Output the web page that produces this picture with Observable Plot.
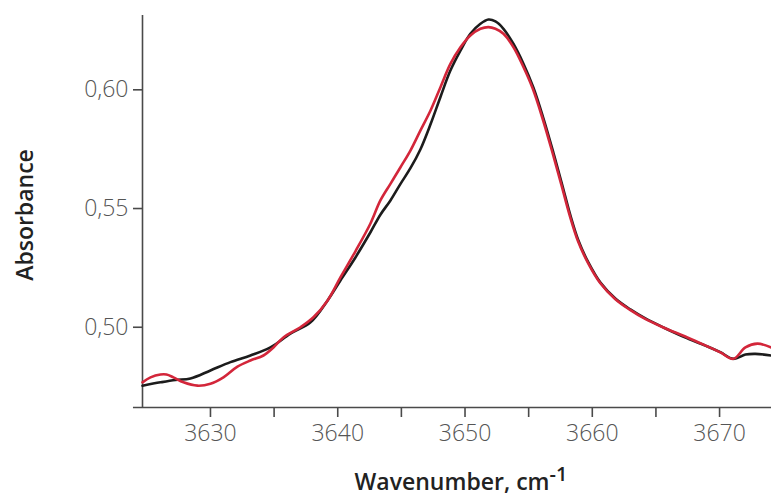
<!DOCTYPE html>
<html>
<head>
<meta charset="utf-8">
<script src="https://cdn.jsdelivr.net/npm/d3@7"></script>
<script src="https://cdn.jsdelivr.net/npm/@observablehq/plot@0.6"></script>
<style>
  html, body { margin: 0; padding: 0; background: #fff; }
  #chart { width: 771px; height: 497px; }
</style>
</head>
<body>
<div id="chart"></div>
<script>
// Black spectrum (wavenumber, absorbance)
const blackWavenumber = [3624.66, 3626.07, 3627.25, 3628.43, 3630.0, 3631.57, 3633.14, 3634.71, 3636.28, 3637.86, 3639.19, 3640.21, 3641.39, 3642.57, 3643.35, 3644.14, 3644.93, 3645.71, 3646.50, 3647.29, 3648.07, 3648.85, 3649.64, 3650.42, 3651.21, 3651.84, 3652.39, 3653.02, 3653.80, 3654.59, 3655.37, 3656.16, 3656.94, 3657.65, 3658.28, 3658.91, 3659.69, 3660.64, 3661.81, 3662.99, 3664.17, 3665.59, 3667.47, 3669.05, 3670.06, 3671.08, 3672.03, 3672.81, 3674.07];
const blackAbsorbance = [0.4754, 0.4768, 0.4778, 0.4784, 0.4818, 0.4853, 0.4881, 0.4915, 0.4973, 0.5021, 0.5112, 0.5197, 0.5294, 0.5400, 0.5474, 0.5534, 0.5604, 0.5670, 0.5750, 0.5855, 0.5970, 0.6081, 0.6165, 0.6236, 0.6278, 0.6296, 0.6288, 0.6257, 0.6194, 0.6110, 0.6010, 0.5880, 0.5736, 0.5597, 0.5471, 0.5365, 0.5273, 0.5188, 0.5121, 0.5075, 0.5037, 0.4999, 0.4953, 0.4919, 0.4895, 0.4867, 0.4885, 0.4888, 0.4881];

// Red spectrum (wavenumber, absorbance)
const redWavenumber = [3624.66, 3625.29, 3626.07, 3626.54, 3627.09, 3627.88, 3628.98, 3630.0, 3631.02, 3632.12, 3633.14, 3634.16, 3634.95, 3635.73, 3637.07, 3638.09, 3639.19, 3640.21, 3641.39, 3642.57, 3643.35, 3644.14, 3644.93, 3645.71, 3646.50, 3647.29, 3648.07, 3648.85, 3649.64, 3650.42, 3651.21, 3651.84, 3652.39, 3653.02, 3653.80, 3654.59, 3655.32, 3656.11, 3656.89, 3657.60, 3658.24, 3658.88, 3659.66, 3660.62, 3661.79, 3662.97, 3664.15, 3665.59, 3667.47, 3669.05, 3670.06, 3671.08, 3672.03, 3672.97, 3674.07];
const redAbsorbance = [0.4768, 0.4789, 0.4801, 0.4801, 0.4789, 0.4768, 0.4754, 0.4762, 0.4789, 0.4834, 0.4860, 0.4881, 0.4915, 0.4957, 0.5000, 0.5042, 0.5112, 0.5210, 0.5320, 0.5437, 0.5534, 0.5604, 0.5674, 0.5744, 0.5829, 0.5913, 0.6011, 0.6109, 0.6179, 0.6229, 0.6257, 0.6264, 0.6257, 0.6236, 0.6180, 0.6096, 0.6005, 0.5876, 0.5732, 0.5594, 0.5468, 0.5362, 0.5271, 0.5186, 0.5119, 0.5073, 0.5035, 0.4999, 0.4957, 0.4919, 0.4894, 0.4867, 0.4915, 0.4931, 0.4915];

const xMajorTicks = [3630, 3640, 3650, 3660, 3670];
const xMinorTicks = [3635, 3645, 3655, 3665];
const yTicks = [0.50, 0.55, 0.60];
const xDomain = [3624.66, 3674.08];
const yDomain = [0.4662, 0.6313];
const xLabel = "Wavenumber, cm";
const xLabelSup = "-1";
const yLabel = "Absorbance";

const black = blackWavenumber.map((w, i) => ({w, a: blackAbsorbance[i]}));
const red = redWavenumber.map((w, i) => ({w, a: redAbsorbance[i]}));

const tickFont = {fontSize: 23, fontFamily: "'Open Sans', sans-serif", fontWeight: 300};

const plot = Plot.plot({
  width: 771,
  height: 497,
  marginLeft: 142,
  marginRight: 0,
  marginTop: 15,
  marginBottom: 90,
  style: {background: "#fff", fontFamily: "'Open Sans', sans-serif"},
  x: {domain: xDomain},
  y: {domain: yDomain},
  marks: [
    Plot.ruleY([yDomain[0]], {x1: 3623.95, x2: xDomain[1], stroke: "#4a4a4a", strokeWidth: 1.6}),
    Plot.ruleX([xDomain[0]], {y1: yDomain[0], y2: yDomain[1], stroke: "#4a4a4a", strokeWidth: 1.6}),
    Plot.axisX({ticks: xMinorTicks, tickSize: 10, tickFormat: () => "", stroke: "#4a4a4a", strokeWidth: 1.6, label: null}),
    Plot.axisX({ticks: xMajorTicks, tickSize: 10, tickPadding: 7, tickFormat: d => String(d), stroke: "#4a4a4a", strokeWidth: 1.6, fill: "#555", label: null, ...tickFont}),
    Plot.axisY({ticks: yTicks, tickSize: 9, tickPadding: 5, tickFormat: d => d.toFixed(2).replace(".", ","), stroke: "#4a4a4a", strokeWidth: 1.6, fill: "#555", label: null, ...tickFont}),
    Plot.line(black, {x: "w", y: "a", stroke: "#1c1c1c", strokeWidth: 2.6, curve: "catmull-rom"}),
    Plot.line(red, {x: "w", y: "a", stroke: "#d3263a", strokeWidth: 2.6, curve: "catmull-rom"})
  ]
});

const svg = d3.select(plot);
svg.append("text")
  .attr("transform", "translate(33,215) rotate(-90)")
  .attr("text-anchor", "middle")
  .attr("font-family", "'Open Sans', sans-serif")
  .attr("font-size", 23)
  .attr("font-weight", 600)
  .attr("fill", "#222")
  .text(yLabel);
const xl = svg.append("text")
  .attr("x", 461)
  .attr("y", 490)
  .attr("text-anchor", "middle")
  .attr("font-family", "'Open Sans', sans-serif")
  .attr("font-size", 23)
  .attr("font-weight", 600)
  .attr("fill", "#222");
xl.append("tspan").text(xLabel);
xl.append("tspan").attr("dy", -9).attr("font-size", 20).text(xLabelSup);

document.getElementById("chart").appendChild(plot);
</script>
</body>
</html>
